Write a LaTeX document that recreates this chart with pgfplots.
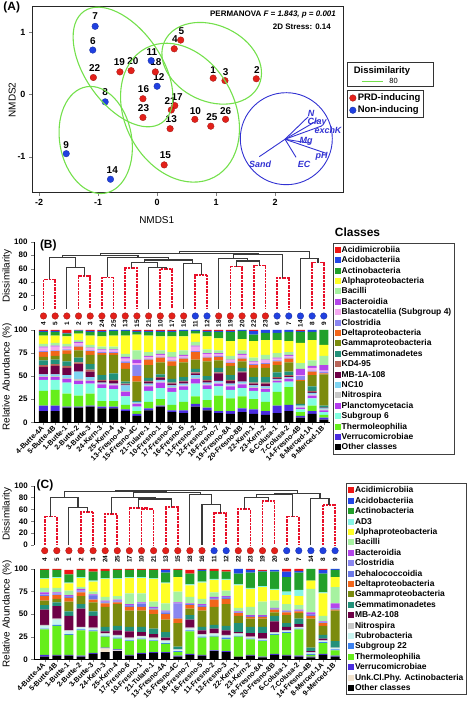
\documentclass[border=0pt]{standalone}
\usepackage{fontspec}
\setmainfont{Liberation Sans}
\usepackage{pgfplots}
\pgfplotsset{compat=1.18}
\usepackage{pgfplotstable}

\definecolor{cOth}{HTML}{000000}
\definecolor{cVer}{HTML}{4A2CE0}
\definecolor{cThe}{HTML}{66EE1A}
\definecolor{cSg}{HTML}{80FFE0}
\definecolor{cPla}{HTML}{B43CEE}
\definecolor{cNit}{HTML}{C8C8C8}
\definecolor{cNC}{HTML}{7FD4F2}
\definecolor{cMB}{HTML}{6E0046}
\definecolor{cKD}{HTML}{B8665A}
\definecolor{cGem}{HTML}{22917A}
\definecolor{cGam}{HTML}{7B8B0E}
\definecolor{cDel}{HTML}{F2661A}
\definecolor{cClo}{HTML}{8A86F0}
\definecolor{cBla}{HTML}{F4A8F0}
\definecolor{cBcd}{HTML}{B446EA}
\definecolor{cBac}{HTML}{A6F2A0}
\definecolor{cAlp}{HTML}{FFFF26}
\definecolor{cAct}{HTML}{22A02A}
\definecolor{cAcb}{HTML}{2346E6}
\definecolor{cAcm}{HTML}{EE1515}
\definecolor{cAD}{HTML}{86F5E6}
\definecolor{cDeh}{HTML}{6A78E8}
\definecolor{cRub}{HTML}{C8F4F0}
\definecolor{cSt}{HTML}{3C82F0}
\definecolor{cUnk}{HTML}{F2E2CC}
\definecolor{ptR}{HTML}{E3201A}
\definecolor{ptB}{HTML}{2040E0}
\definecolor{ellG}{HTML}{74E04C}
\definecolor{vecB}{HTML}{3232D2}
\definecolor{dendK}{HTML}{3A3A3A}
\definecolor{dendR}{HTML}{E8102A}

\pgfplotstableread{
x Oth Ver The Sg Pla Nit NC MB KD Gem Gam Del Clo Bla Bcd Bac Alp Act Acb Acm
0 12 6 16 12 3 1 2 8 2 5 4 5 1 4 1 3 9 4 1 1
1 12 6 17 11 3 1 2 9 2 5 4 5 1 4 1 3 8 4 1 1
2 16 1 14 12 4 1 3 8 2 5 8 4 1 2 1 3 8 3 1 3
3 16 1 12 12 4 2 8 8 2 5 8 4 1 3 1 2 7 3 0.5 0.5
4 17 1 13 11 3 1 3 6 2 6 10 4 1 2 1 3 10 4 1 1
5 15 2 6 14 4 1 1 2 1 5 22 2 1 2 1 3 11 5 1 1
6 15 2 6 13 4 1 1 3 1 7 20 2 1 2 1 3 12 5 1 0
7 12 2 5 9 5 1 6 1 1 2 14 6 2 3 2 3 20 5 1 0
8 7 2 3 5 3 1 1 0 0 1 21 6 12 2 4 10 17 3 1 1
9 13 2 7 12 5 1 2 2 1 3 14 6 1 2 1 4 18 4 1 1
10 17 1 7 12 6 1 2 2 1 3 13 5 1 2 1 4 15 5 1 1
11 11 2 6 14 4 1 2 2 1 4 14 5 1 3 1 5 17 5 1 1
12 10 3 9 13 4 1 2 2 1 4 16 4 1 2 1 5 15 6 1 0
13 17 3 8 14 5 1 3 2 1 4 10 8 1 5 1 4 9 3 1 0
14 13 3 8 12 4 1 2 2 1 4 16 4 1 3 1 4 14 5 1 1
15 10 2 17 10 3 1 2 8 1 5 8 4 1 2 1 3 13 7 1 1
16 9 3 14 9 4 1 2 3 1 5 10 3 1 2 1 4 16 10 1 1
17 11 4 13 9 4 1 2 10 1 4 7 3 1 3 1 4 12 9 1 0
18 9 5 11 9 3 1 2 2 1 6 10 3 1 2 1 4 18 7 4 1
19 8 4 10 11 3 1 2 3 1 6 10 4 1 3 1 5 16 8 3 0
20 10 8 15 10 2 1 1 1 1 5 8 4 1 2 1 5 14 8 3 0
21 12 7 19 6 3 1 1 1 1 4 10 4 1 2 1 3 12 10 2 0
22 5 2 4 3 2 1 1 0 0 2 25 1 4 1 7 6 22 12 1 1
23 9 3 6 8 3 1 2 1 1 5 12 4 1 3 2 6 22 9 2 0
24 3 2 3 3 2 1 1 1 0 2 34 1 2 1 6 10 12 16 0 0
}\tabB

\pgfplotstableread{
x Oth Unk Ver The St Rub Nit MB Gem Gam Del Deh Clo Bcd Bac Alp AD Act Acb Acm
0 3 0 2 28 1 3 1 17 5 5 5 1 1 2 5 10 1 9 0 1
1 4 0 1 32 1 6 1 14 4 4 4 1 1 1 5 11 1 8 0 1
2 4 0 1 22 1 3 1 16 5 11 4 1 1 1 5 8 1 9 0 5
3 3 0 1 28 1 2 1 20 5 9 4 1 1 2 2 10 1 8 0 1
4 6 0 1 24 1 2 1 13 5 10 3 4 1 1 3 11 1 10 0 3
5 8 4 1 12 1 2 1 2 5 22 4 1 1 1 4 20 1 8 0 2
6 9 1 1 12 1 2 1 5 5 24 2 1 1 1 4 19 1 9 0 1
7 4 0 1 15 1 2 1 7 5 18 4 1 1 1 12 17 1 8 0 1
8 6 0 1 15 1 2 1 4 6 18 4 3 1 1 10 17 1 8 0 1
9 7 0 1 12 1 2 1 4 6 16 5 1 1 1 6 25 1 9 0 1
10 7 0 1 9 1 2 1 3 6 14 6 2 1 1 8 22 1 11 3 1
11 3 0 1 4 1 1 1 0 3 26 5 1 16 1 12 16 0 8 0 1
12 5 0 1 25 1 2 1 9 5 7 4 1 0 1 7 13 1 12 0 4
13 4 0 1 19 1 2 1 4 4 18 4 1 1 1 6 18 1 12 1 1
14 9 0 1 15 1 2 1 5 4 20 8 1 1 1 5 14 1 9 0 2
15 8 0 1 13 2 2 1 5 5 24 6 1 1 1 6 12 1 8 0 2
16 3 0 0 22 1 2 1 1 10 8 3 1 0 1 4 25 1 12 5 0
17 4 0 1 17 1 1 1 4 7 9 2 1 0 1 9 20 1 17 3 1
18 2 0 1 17 1 1 1 6 7 9 2 1 0 1 15 16 1 16 1 1
19 5 0 1 21 1 1 1 12 6 4 3 1 0 1 8 12 1 19 2 0
20 4 0 1 24 1 1 1 4 4 9 3 1 0 1 7 10 4 16 6 3
21 3 0 1 29 1 1 1 3 6 6 2 1 0 1 5 10 7 19 2 2
22 2 0 1 2 1 1 1 1 4 32 3 1 1 2 26 9 0 13 0 0
23 5 0 1 12 1 1 1 2 4 10 3 1 0 1 6 25 1 21 4 1
24 3 0 1 6 1 1 1 0 7 34 1 1 1 5 18 11 0 8 1 0
}\tabC

\pgfplotsset{
  dk/.style={dendK, line width=1.1bp, no marks},
  dr/.style={dendR, line width=1.7bp, dash pattern=on 2bp off 0.7bp, no marks},
  dendax/.style={scale only axis, anchor=south west, ymin=0, ymax=100,
    axis x line=none, axis y line*=left, axis line style={line width=0.9bp},
    ytick={0,20,40,60,80,100}, tick align=outside, major tick length=3bp,
    y tick label style={font=\bfseries\fontsize{8}{9}\selectfont},
    /pgf/number format/assume math mode=true, clip=false},
  barax/.style={scale only axis, anchor=south west, ybar stacked, ymin=0, ymax=100,
    axis x line*=bottom, axis y line*=left, axis line style={line width=0.9bp},
    ytick={0,25,50,75,100}, xtick={0,...,24}, tick align=outside, major tick length=3bp,
    y tick label style={font=\bfseries\fontsize{8}{9}\selectfont},
    x tick label style={yshift=-1bp, rotate=45, anchor=east, inner sep=1bp, font=\bfseries\fontsize{7.2}{8}\selectfont},
    /pgf/number format/assume math mode=true,
    legend cell align=left, reverse legend,
    legend image code/.code={\fill[##1] (0bp,-3bp) rectangle (6bp,3bp);},
    legend style={draw=black!75, line width=0.8bp, font=\bfseries\fontsize{8.5}{9}\selectfont,
      nodes={text height=6.6bp, text depth=1.6bp, inner sep=1.1bp}, inner xsep=1.5bp, inner ysep=1.5bp, row sep=0bp}},
  rdots/.style={only marks, mark=*, mark size=3.3bp, mark options={fill=ptR, draw=ptR!70!black, line width=0.3bp}},
  bdots/.style={only marks, mark=*, mark size=3.3bp, mark options={fill=ptB, draw=ptB!70!black, line width=0.3bp}},
  numlab/.style={draw=none, mark=none, nodes near coords, point meta=explicit symbolic,
    nodes near coords style={rotate=90, anchor=center, inner sep=0pt, font=\bfseries\fontsize{6.5}{7}\selectfont}},
}

\begin{document}
\begin{tikzpicture}[x=1bp, y=1bp]

%================ PANEL A =================
\begin{axis}[at={(32bp,521bp)}, anchor=south west, scale only axis, width=311bp, height=186bp,
  xmin=-2.12, xmax=3.15, ymin=-1.58, ymax=1.40,
  xtick={-2,-1,0,1,2}, ytick={-1,0,1},
  tick align=outside, tick pos=left, major tick length=3bp,
  tick label style={font=\bfseries\fontsize{9}{10}\selectfont},
  /pgf/number format/assume math mode=true,
  axis line style={line width=1bp, black!85},
  clip=false,
  legend cell align=left,
  legend style={at={(1.013,0.554)}, anchor=north west, draw=black!80, line width=1bp,
    font=\bfseries\fontsize{9.5}{10}\selectfont, inner xsep=2bp, inner ysep=1.5bp,
    nodes={text height=7bp, text depth=2bp, inner sep=1.6bp}},
]
\addplot[rdots] coordinates {(-1.08,0.27) (-0.63,0.36) (-0.44,0.38) (-0.03,0.36) (0.40,0.87) (0.29,0.73) (0.95,0.26) (1.15,0.22) (1.68,0.25) (-0.24,-0.07) (0.30,-0.18) (0.24,-0.25) (-0.24,-0.37) (0.22,-0.55) (0.64,-0.40) (0.91,-0.51) (1.16,-0.40) (0.12,-1.13)};
\addplot[bdots] coordinates {(-1.05,1.09) (-1.09,0.71) (-0.10,0.54) (0.0,0.13) (-0.88,-0.12) (-1.54,-0.95) (-0.79,-1.36)};
\legend{PRD-inducing, Non-inducing}
% environmental vectors
\addplot[vecB, line width=0.9bp, no marks, forget plot] coordinates {(2.167,-0.719) (2.562,-0.357)};
\addplot[vecB, line width=0.9bp, no marks, forget plot] coordinates {(2.167,-0.719) (2.732,-0.410)};
\addplot[vecB, line width=0.9bp, no marks, forget plot] coordinates {(2.167,-0.719) (2.789,-0.506)};
\addplot[vecB, line width=0.9bp, no marks, forget plot] coordinates {(2.167,-0.719) (2.591,-0.783)};
\addplot[vecB, line width=0.9bp, no marks, forget plot] coordinates {(2.167,-0.719) (2.862,-0.944)};
\addplot[vecB, line width=0.9bp, no marks, forget plot] coordinates {(2.167,-0.719) (2.354,-1.008)};
\addplot[vecB, line width=0.9bp, no marks, forget plot] coordinates {(2.167,-0.719) (1.732,-0.998)};
\begin{scope}[font=\bfseries\itshape\fontsize{9}{10}\selectfont, text=vecB, inner sep=0pt]
\node at (axis cs:2.608,-0.30) {N};
\node at (axis cs:2.71,-0.44) {Clay};
\node at (axis cs:2.896,-0.57) {exchK};
\node at (axis cs:2.523,-0.758) {Mg};
\node at (axis cs:2.789,-0.987) {pH};
\node at (axis cs:2.49,-1.12) {EC};
\node at (axis cs:1.744,-1.12) {Sand};
\end{scope}
\begin{scope}[font=\bfseries\fontsize{10}{11}\selectfont, inner sep=0pt]
\node at (axis cs:-1.05,1.25) {7};
\node at (axis cs:-1.09,0.86) {6};
\node at (axis cs:-1.06,0.42) {22};
\node at (axis cs:-0.64,0.51) {19};
\node at (axis cs:-0.41,0.53) {20};
\node at (axis cs:-0.09,0.67) {11};
\node at (axis cs:-0.02,0.51) {18};
\node at (axis cs:0.03,0.27) {12};
\node at (axis cs:0.41,1.02) {5};
\node at (axis cs:0.30,0.88) {4};
\node at (axis cs:0.95,0.39) {1};
\node at (axis cs:1.16,0.36) {3};
\node at (axis cs:1.69,0.39) {2};
\node at (axis cs:-0.88,0.03) {8};
\node at (axis cs:-0.23,0.08) {16};
\node at (axis cs:0.34,-0.04) {17};
\node at (axis cs:0.22,-0.11) {21};
\node at (axis cs:-0.23,-0.22) {23};
\node at (axis cs:0.24,-0.40) {13};
\node at (axis cs:0.65,-0.26) {10};
\node at (axis cs:0.93,-0.36) {25};
\node at (axis cs:1.16,-0.26) {26};
\node at (axis cs:-1.54,-0.81) {9};
\node at (axis cs:-0.76,-1.22) {14};
\node at (axis cs:0.14,-0.98) {15};
\end{scope}
\end{axis}

% ellipses and circle (panel A annotations)
\draw[ellG, line width=1.1bp, rotate around={-55:(123,647)}] (123,647) ellipse (68 and 38);
\draw[ellG, line width=1.1bp, rotate around={-25:(211.7,650.7)}] (211.7,650.7) ellipse (52 and 38);
\draw[ellG, line width=1.1bp, rotate around={-62:(180,601.3)}] (180,601.3) ellipse (73 and 55);
\draw[ellG, line width=1.1bp, rotate around={-80:(95.7,574)}] (95.7,574) ellipse (54 and 36);
\draw[vecB, line width=0.9bp] (286.3,575.3) circle (46);

\node[font=\bfseries\fontsize{12}{12}\selectfont, inner sep=0pt] at (11.7,706.5) {(A)};
\node[font=\fontsize{10}{11}\selectfont] at (156.7,494) {NMDS1};
\node[font=\fontsize{10}{11}\selectfont, rotate=90] at (12.3,614) {NMDS2};
\node[anchor=east, inner sep=0pt, font=\bfseries\fontsize{8}{9}\selectfont] at (336,699) {PERMANOVA \textit{F = 1.843, p = 0.001}};
\node[anchor=east, inner sep=0pt, font=\bfseries\fontsize{8}{9}\selectfont] at (331,687.3) {2D Stress: 0.14};
\draw[black!80, line width=1bp] (347,651) rectangle (433,627);
\node[font=\bfseries\fontsize{9.5}{10}\selectfont, inner sep=0pt] at (382,642.5) {Dissimilarity};
\draw[ellG, line width=1.1bp] (361.7,632.7) -- (383,632.7);
\node[font=\fontsize{7.5}{8}\selectfont, inner sep=0pt] at (393.5,632.7) {80};

%================ PANEL B dendrogram =================
\begin{axis}[dendax, at={(34bp,405bp)}, width=296bp, height=67.3bp, xmin=-0.813, xmax=24.53]
\addplot[dr] coordinates {(0,0)(0,44)(1,44)(1,0)};
\addplot[dr] coordinates {(3,0)(3,49.5)(4,49.5)(4,0)};
\addplot[dr] coordinates {(5,0)(5,47)(6,47)(6,0)};
\addplot[dr] coordinates {(7,0)(7,60.4)(8,60.4)(8,0)};
\addplot[dr] coordinates {(10,0)(10,59.4)(11,59.4)(11,0)};
\addplot[dr] coordinates {(13,0)(13,50.5)(14,50.5)(14,0)};
\addplot[dr] coordinates {(16,0)(16,63)(17,63)(17,0)};
\addplot[dr] coordinates {(18,0)(18,64.4)(19,64.4)(19,0)};
\addplot[dr] coordinates {(20,0)(20,45.6)(21,45.6)(21,0)};
\addplot[dr] coordinates {(23,0)(23,69)(24,69)(24,0)};
\addplot[dk] coordinates {(2,0)(2,61.4)(3.5,61.4)(3.5,49.5)};
\addplot[dk] coordinates {(0.5,44)(0.5,76.8)(2.75,76.8)(2.75,61.4)};
\addplot[dk] coordinates {(9,0)(9,61.5)(10.5,61.5)(10.5,59.4)};
\addplot[dk] coordinates {(7.5,60.4)(7.5,69.4)(9.75,69.4)(9.75,61.5)};
\addplot[dk] coordinates {(12,0)(12,67)(13.5,67)(13.5,50.5)};
\addplot[dk] coordinates {(8.625,69.4)(8.625,72.8)(12.75,72.8)(12.75,67)};
\addplot[dk] coordinates {(5.5,47)(5.5,76.8)(10.6875,76.8)(10.6875,72.8)};
\addplot[dk] coordinates {(1.625,76.8)(1.625,79.5)(8.09,79.5)(8.09,76.8)};
\addplot[dk] coordinates {(16.5,63)(16.5,71.3)(18.5,71.3)(18.5,64.4)};
\addplot[dk] coordinates {(15,0)(15,75.3)(17.5,75.3)(17.5,71.3)};
\addplot[dk] coordinates {(16.25,75.3)(16.25,81)(20.5,81)(20.5,45.6)};
\addplot[dk] coordinates {(22,0)(22,75.3)(23.5,75.3)(23.5,69)};
\addplot[dk] coordinates {(4.86,79.5)(4.86,82.5)(18.375,82.5)(18.375,81)};
\addplot[dk] coordinates {(11.62,82.5)(11.62,86)(22.75,86)(22.75,75.3)};
\addplot[rdots] coordinates {(0,-10.4)(1,-10.4)(2,-10.4)(3,-10.4)(4,-10.4)(5,-10.4)(6,-10.4)(7,-10.4)(8,-10.4)(9,-10.4)(10,-10.4)(11,-10.4)(12,-10.4)(15,-10.4)(16,-10.4)(17,-10.4)(18,-10.4)(19,-10.4)};
\addplot[bdots] coordinates {(13,-10.4)(14,-10.4)(20,-10.4)(21,-10.4)(22,-10.4)(23,-10.4)(24,-10.4)};
\addplot[numlab] coordinates {(0,-22.3)[4] (1,-22.3)[5] (2,-22.3)[1] (3,-22.3)[2] (4,-22.3)[3] (5,-22.3)[24] (6,-22.3)[25] (7,-22.3)[13] (8,-22.3)[15] (9,-22.3)[21] (10,-22.3)[10] (11,-22.3)[17] (12,-22.3)[16] (13,-22.3)[11] (14,-22.3)[12] (15,-22.3)[18] (16,-22.3)[19] (17,-22.3)[20] (18,-22.3)[22] (19,-22.3)[23] (20,-22.3)[6] (21,-22.3)[7] (22,-22.3)[14] (23,-22.3)[8] (24,-22.3)[9]};
\end{axis}

%================ PANEL B bars =================
\begin{axis}[barax, at={(34bp,291.7bp)}, width=296bp, height=92.3bp, xmin=-0.813, xmax=24.53, bar width=0.77,
  xticklabels={4-Butte-4A,5-Butte-4B,1-Butte-1,2-Butte-2,3-Butte-3,24-Kern-3,25-Kern-4,13-Fresno-4A,15-Fresno-4C,21-Tulare-1,10-Fresno-1,17-Fresno-6,16-Fresno-5,11-Fresno-2,12-Fresno-3,18-Fresno-7,19-Fresno-8A,20-Fresno-8B,22-Kern-1,23-Kern-2,6-Colusa-1,7-Colusa-2,14-Fresno-4B,8-Merced-1A,9-Merced-1B},
  legend style={at={(1.009,1.946)}, anchor=north west}]
\addplot[fill=cOth, draw=none] table[x=x,y=Oth]{\tabB}; \addlegendentry{Other classes}
\addplot[fill=cVer, draw=none] table[x=x,y=Ver]{\tabB}; \addlegendentry{Verrucomicrobiae}
\addplot[fill=cThe, draw=none] table[x=x,y=The]{\tabB}; \addlegendentry{Thermoleophilia}
\addplot[fill=cSg, draw=none] table[x=x,y=Sg]{\tabB}; \addlegendentry{Subgroup 6}
\addplot[fill=cPla, draw=none] table[x=x,y=Pla]{\tabB}; \addlegendentry{Planctomycetacia}
\addplot[fill=cNit, draw=none] table[x=x,y=Nit]{\tabB}; \addlegendentry{Nitrospira}
\addplot[fill=cNC, draw=none] table[x=x,y=NC]{\tabB}; \addlegendentry{NC10}
\addplot[fill=cMB, draw=none] table[x=x,y=MB]{\tabB}; \addlegendentry{MB-1A-108}
\addplot[fill=cKD, draw=none] table[x=x,y=KD]{\tabB}; \addlegendentry{KD4-95}
\addplot[fill=cGem, draw=none] table[x=x,y=Gem]{\tabB}; \addlegendentry{Gemmatimonadetes}
\addplot[fill=cGam, draw=none] table[x=x,y=Gam]{\tabB}; \addlegendentry{Gammaproteobacteria}
\addplot[fill=cDel, draw=none] table[x=x,y=Del]{\tabB}; \addlegendentry{Deltaproteobacteria}
\addplot[fill=cClo, draw=none] table[x=x,y=Clo]{\tabB}; \addlegendentry{Clostridia}
\addplot[fill=cBla, draw=none] table[x=x,y=Bla]{\tabB}; \addlegendentry{Blastocatellia (Subgroup 4)}
\addplot[fill=cBcd, draw=none] table[x=x,y=Bcd]{\tabB}; \addlegendentry{Bacteroidia}
\addplot[fill=cBac, draw=none] table[x=x,y=Bac]{\tabB}; \addlegendentry{Bacilli}
\addplot[fill=cAlp, draw=none] table[x=x,y=Alp]{\tabB}; \addlegendentry{Alphaproteobacteria}
\addplot[fill=cAct, draw=none] table[x=x,y=Act]{\tabB}; \addlegendentry{Actinobacteria}
\addplot[fill=cAcb, draw=none] table[x=x,y=Acb]{\tabB}; \addlegendentry{Acidobacteriia}
\addplot[fill=cAcm, draw=none] table[x=x,y=Acm]{\tabB}; \addlegendentry{Acidimicrobiia}
\end{axis}

\node[font=\bfseries\fontsize{12}{12}\selectfont, inner sep=0pt] at (48.3,468.2) {(B)};
\node[font=\fontsize{10}{11}\selectfont, rotate=90] at (7,438) {Dissimilarity};
\node[font=\fontsize{10}{11}\selectfont, rotate=90] at (7,337) {Relative Abundance (\%)};
\node[font=\bfseries\fontsize{12}{12}\selectfont, inner sep=0pt] at (357.5,482) {Classes};

%================ PANEL C dendrogram =================
\begin{axis}[dendax, at={(34.3bp,169bp)}, width=306.7bp, height=59.3bp, xmin=-0.86, xmax=24.49]
\addplot[dr] coordinates {(0,0)(0,47.8)(1,47.8)(1,0)};
\addplot[dr] coordinates {(3,0)(3,56)(4,56)(4,0)};
\addplot[dr] coordinates {(5,0)(5,51.7)(6,51.7)(6,0)};
\addplot[dr] coordinates {(8,0)(8,60.7)(9,60.7)(9,0)};
\addplot[dr] coordinates {(7,0)(7,62.5)(8.5,62.5)(8.5,60.7)};
\addplot[dr] coordinates {(10,0)(10,64.6)(11,64.6)(11,0)};
\addplot[dr] coordinates {(14,0)(14,53.4)(15,53.4)(15,0)};
\addplot[dr] coordinates {(16,0)(16,60.7)(17,60.7)(17,0)};
\addplot[dr] coordinates {(18,0)(18,74)(19,74)(19,0)};
\addplot[dr] coordinates {(20,0)(20,47.8)(21,47.8)(21,0)};
\addplot[dr] coordinates {(23,0)(23,67.5)(24,67.5)(24,0)};
\addplot[dk] coordinates {(2,0)(2,63)(3.5,63)(3.5,56)};
\addplot[dk] coordinates {(0.5,47.8)(0.5,80)(2.75,80)(2.75,63)};
\addplot[dk] coordinates {(7.75,62.5)(7.75,77.6)(10.5,77.6)(10.5,64.6)};
\addplot[dk] coordinates {(5.5,51.7)(5.5,80)(9.125,80)(9.125,77.6)};
\addplot[dk] coordinates {(13,0)(13,69)(14.5,69)(14.5,53.4)};
\addplot[dk] coordinates {(12,0)(12,85)(13.75,85)(13.75,69)};
\addplot[dk] coordinates {(7.3125,80)(7.3125,88)(12.875,88)(12.875,85)};
\addplot[dk] coordinates {(1.625,80)(1.625,90)(10.09,90)(10.09,88)};
\addplot[dk] coordinates {(16.5,60.7)(16.5,80)(18.5,80)(18.5,74)};
\addplot[dk] coordinates {(17.5,80)(17.5,85)(20.5,85)(20.5,47.8)};
\addplot[dk] coordinates {(22,0)(22,78.6)(23.5,78.6)(23.5,67.5)};
\addplot[dk] coordinates {(19,85)(19,87)(22.75,87)(22.75,78.6)};
\addplot[dk] coordinates {(5.86,90)(5.86,92)(20.875,92)(20.875,87)};
\addplot[rdots] coordinates {(0,-9.6)(1,-9.6)(2,-9.6)(3,-9.6)(4,-9.6)(5,-9.6)(6,-9.6)(7,-9.6)(8,-9.6)(9,-9.6)(10,-9.6)(11,-9.6)(12,-9.6)(13,-9.6)(16,-9.6)(17,-9.6)(18,-9.6)(19,-9.6)};
\addplot[bdots] coordinates {(14,-9.6)(15,-9.6)(20,-9.6)(21,-9.6)(22,-9.6)(23,-9.6)(24,-9.6)};
\addplot[numlab] coordinates {(0,-24.1)[4] (1,-24.1)[5] (2,-24.1)[1] (3,-24.1)[2] (4,-24.1)[3] (5,-24.1)[24] (6,-24.1)[25] (7,-24.1)[17] (8,-24.1)[10] (9,-24.1)[21] (10,-24.1)[13] (11,-24.1)[15] (12,-24.1)[18] (13,-24.1)[16] (14,-24.1)[11] (15,-24.1)[12] (16,-24.1)[22] (17,-24.1)[23] (18,-24.1)[19] (19,-24.1)[20] (20,-24.1)[6] (21,-24.1)[7] (22,-24.1)[14] (23,-24.1)[8] (24,-24.1)[9]};
\end{axis}

%================ PANEL C bars =================
\begin{axis}[barax, at={(34.3bp,54.7bp)}, width=306.7bp, height=90.3bp, xmin=-0.86, xmax=24.49, bar width=0.74,
  xticklabels={4-Butte-4A,5-Butte-4B,1-Butte-1,2-Butte-2,3-Butte-3,24-Kern-3,25-Kern-4,17-Fresno-6,10-Fresno-1,21-Tulare-1,13-Fresno-4A,15-Fresno-4C,18-Fresno-7,16-Fresno-5,11-Fresno-2,12-Fresno-3,22-Kern-1,23-Kern-2,19-Fresno-8A,20-Fresno-8B,6-Colusa-1,7-Colusa-2,14-Fresno-4B,8-Merced-1A,9-Merced-1B},
  legend style={at={(1.0163,1.949)}, anchor=north west}]
\addplot[fill=cOth, draw=none] table[x=x,y=Oth]{\tabC}; \addlegendentry{Other classes}
\addplot[fill=cUnk, draw=none] table[x=x,y=Unk]{\tabC}; \addlegendentry{Unk.Cl.Phy. Actinobacteria}
\addplot[fill=cVer, draw=none] table[x=x,y=Ver]{\tabC}; \addlegendentry{Verrucomicrobiae}
\addplot[fill=cThe, draw=none] table[x=x,y=The]{\tabC}; \addlegendentry{Thermoleophilia}
\addplot[fill=cSt, draw=none] table[x=x,y=St]{\tabC}; \addlegendentry{Subgroup 22}
\addplot[fill=cRub, draw=none] table[x=x,y=Rub]{\tabC}; \addlegendentry{Rubrobacteria}
\addplot[fill=cNit, draw=none] table[x=x,y=Nit]{\tabC}; \addlegendentry{Nitrospira}
\addplot[fill=cMB, draw=none] table[x=x,y=MB]{\tabC}; \addlegendentry{MB-A2-108}
\addplot[fill=cGem, draw=none] table[x=x,y=Gem]{\tabC}; \addlegendentry{Gemmatimonadetes}
\addplot[fill=cGam, draw=none] table[x=x,y=Gam]{\tabC}; \addlegendentry{Gammaproteobacteria}
\addplot[fill=cDel, draw=none] table[x=x,y=Del]{\tabC}; \addlegendentry{Deltaproteobacteria}
\addplot[fill=cDeh, draw=none] table[x=x,y=Deh]{\tabC}; \addlegendentry{Dehalococcoidia}
\addplot[fill=cClo, draw=none] table[x=x,y=Clo]{\tabC}; \addlegendentry{Clostridia}
\addplot[fill=cBcd, draw=none] table[x=x,y=Bcd]{\tabC}; \addlegendentry{Bacteroidia}
\addplot[fill=cBac, draw=none] table[x=x,y=Bac]{\tabC}; \addlegendentry{Bacilli}
\addplot[fill=cAlp, draw=none] table[x=x,y=Alp]{\tabC}; \addlegendentry{Alphaproteobacteria}
\addplot[fill=cAD, draw=none] table[x=x,y=AD]{\tabC}; \addlegendentry{AD3}
\addplot[fill=cAct, draw=none] table[x=x,y=Act]{\tabC}; \addlegendentry{Actinobacteria}
\addplot[fill=cAcb, draw=none] table[x=x,y=Acb]{\tabC}; \addlegendentry{Acidobacteriia}
\addplot[fill=cAcm, draw=none] table[x=x,y=Acm]{\tabC}; \addlegendentry{Acidimicrobiia}
\end{axis}

\node[font=\bfseries\fontsize{12}{12}\selectfont, inner sep=0pt] at (45,229) {(C)};
\node[font=\fontsize{10}{11}\selectfont, rotate=90] at (7,200) {Dissimilarity};
\node[font=\fontsize{10}{11}\selectfont, rotate=90] at (7,100) {Relative Abundance (\%)};

\pgfresetboundingbox
\path[use as bounding box] (0,0) rectangle (474,714);
\end{tikzpicture}
\end{document}
